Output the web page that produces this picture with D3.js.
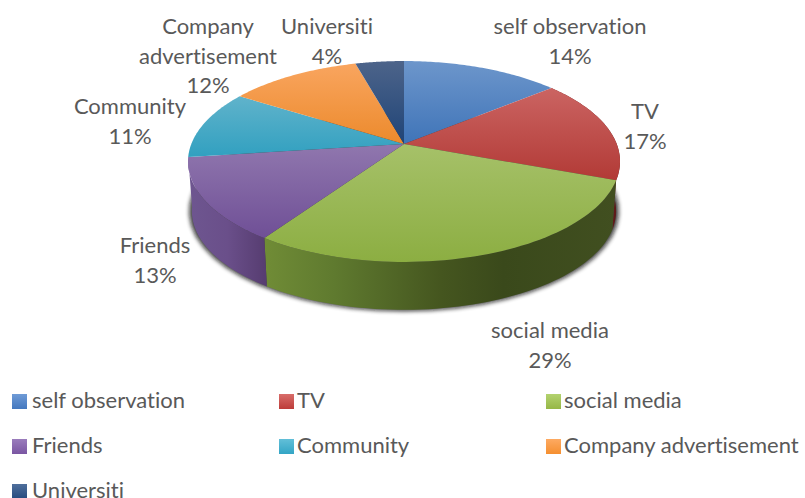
<!DOCTYPE html>
<html>
<head>
<meta charset="utf-8">
<script src="https://d3js.org/d3.v7.min.js"></script>
<style>
html,body{margin:0;padding:0;background:#fff;overflow:hidden}
text{font-family:Lato,"Noto Sans",sans-serif;fill:#595959;font-variant-ligatures:none}
</style>
</head>
<body>
<script>
const categories = ["self observation","TV","social media","Friends","Community","Company advertisement","Universiti"];
const shares = [14,16.7,28.8,13.4,11.1,11.7,4.3];
const tickLabels = ["14%","17%","29%","13%","11%","12%","4%"];
const topLight = ["#6d96cb","#cb6462","#a6c169","#9077ae","#60b3cb","#f9a55f","#4d648a"];
const topDark  = ["#3f74b8","#b23a36","#8cae42","#6f4f96","#31a0c0","#ec8a2c","#1f4477"];
const legendLight = ["#6f9bd6","#d86d6a","#b3d26f","#9a7cbc","#62bfd8","#fdaa62","#4f6f9c"];
const legendDark  = ["#4478bf","#bd3c39","#96b746","#7a56a2","#33a5c5","#f58f30","#254a7e"];
const sideStops = {
  1: [[0,"#7a2422"],[1,"#5c1a19"]],
  2: [[0,"#708c36"],[0.2,"#5f7a2f"],[0.5,"#45561f"],[0.68,"#3a491b"],[1,"#414f20"]],
  3: [[0,"#6e5690"],[0.5,"#6a4f8a"],[1,"#563c70"]]
};
const labelLines = [["self observation"],["TV"],["social media"],["Friends"],["Community"],["Company","advertisement"],["Universiti"]];

const W = 805, H = 498;
const svg = d3.select("body").append("svg").attr("width",W).attr("height",H).style("display","block");
const defs = svg.append("defs");

// perspective pie projection
const cx = 404, cy = 144, R = 212.7, K = 97.4, P = 0.174, depth = 50, baseScale = 0.982;
function proj(a, lower, scale){
  const w = 1 + P*Math.cos(a);
  const s = lower ? (scale||baseScale) : 1;
  return [cx + s*R*Math.sin(a)/w, cy + (lower?depth:0) - s*K*Math.cos(a)/w];
}
const arcs = d3.pie().sort(null).value(d=>d)(shares);
const rimAngles = (a0,a1)=> d3.range(0,61).map(i=>a0+(a1-a0)*i/60);
const line = d3.line();

// gradients
arcs.forEach((d,i)=>{
  const g = defs.append("linearGradient").attr("id","top"+i).attr("x1",0).attr("y1",0).attr("x2",0).attr("y2",1);
  g.append("stop").attr("offset",0).attr("stop-color",topLight[i]);
  g.append("stop").attr("offset",1).attr("stop-color",topDark[i]);
  const l = defs.append("linearGradient").attr("id","leg"+i).attr("x1",0).attr("y1",0).attr("x2",0).attr("y2",1);
  l.append("stop").attr("offset",0).attr("stop-color",legendLight[i]);
  l.append("stop").attr("offset",1).attr("stop-color",legendDark[i]);
  if(sideStops[i]){
    const s = defs.append("linearGradient").attr("id","side"+i).attr("x1",0).attr("y1",0).attr("x2",1).attr("y2",0);
    sideStops[i].forEach(c=>s.append("stop").attr("offset",c[0]).attr("stop-color",c[1]));
  }
});
defs.append("filter").attr("id","blur").attr("x","-10%").attr("y","-10%").attr("width","120%").attr("height","120%")
  .append("feGaussianBlur").attr("stdDeviation",2.2);

// shadow
svg.append("path")
  .attr("d", line(rimAngles(0,2*Math.PI).map(a=>proj(a,true,0.995)))+"Z")
  .attr("fill","#111").attr("opacity",0.8).attr("filter","url(#blur)");

// sides
svg.append("g").selectAll("path").data(arcs.filter((d,i)=>sideStops[i])).join("path")
  .attr("d",d=>{
    const as = rimAngles(d.startAngle,d.endAngle);
    return line(as.map(a=>proj(a,false)).concat(as.slice().reverse().map(a=>proj(a,true))))+"Z";
  })
  .attr("fill",d=>`url(#side${d.index})`);

// tops
svg.append("g").selectAll("path").data(arcs).join("path")
  .attr("d",d=>line([[cx,cy]].concat(rimAngles(d.startAngle,d.endAngle).map(a=>proj(a,false))))+"Z")
  .attr("fill",d=>`url(#top${d.index})`);

// data labels
const labelAt = [[570,26],[645,111],[550,330],[155,245],[130,106],[208,26],[327,26]];
const lineGap = 29.5;
const fontSize = 22;
const lg = svg.append("g").attr("font-size",fontSize).attr("text-anchor","middle");
categories.forEach((c,i)=>{
  const rows = labelLines[i].concat([tickLabels[i]]);
  lg.append("g").selectAll("text").data(rows).join("text")
    .attr("x",labelAt[i][0])
    .attr("y",(d,j)=>labelAt[i][1]+8+j*lineGap)
    .text(d=>d);
});

// legend
const col = d3.scaleOrdinal().domain([0,1,2]).range([12,279,546]);
const row = d3.scaleOrdinal().domain([0,1,2]).range([394,439,484]);
const leg = svg.append("g").selectAll("g").data(categories).join("g")
  .attr("transform",(d,i)=>`translate(${col(i%3)},${row(Math.floor(i/3))})`);
leg.append("rect").attr("width",15).attr("height",15).attr("fill",(d,i)=>`url(#leg${i})`);
leg.append("text").attr("x",(d,i)=>i%3===0?20:18).attr("y",14).attr("font-size",fontSize).text(d=>d);
</script>
</body>
</html>
